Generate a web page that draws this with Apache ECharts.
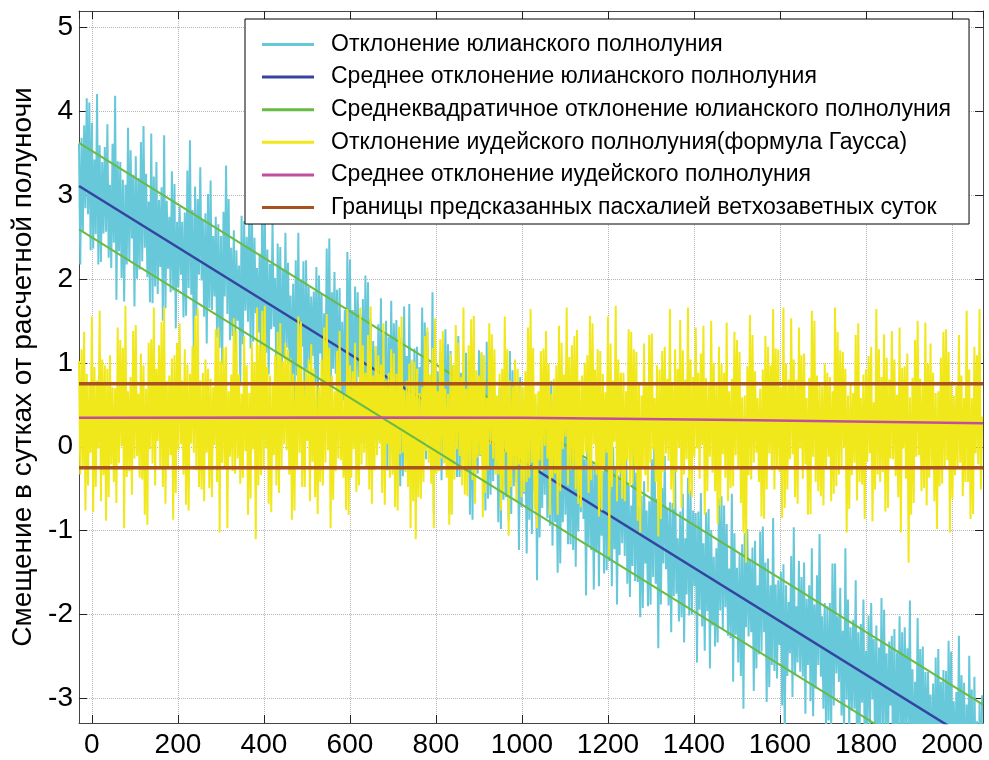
<!DOCTYPE html>
<html>
<head>
<meta charset="utf-8">
<script src="https://cdn.jsdelivr.net/npm/echarts@6/dist/echarts.min.js"></script>
<style>
html, body { margin: 0; padding: 0; background: #fff; }
#chart { width: 989px; height: 760px; }
</style>
</head>
<body>
<div id="chart"></div>
<script>
// годы: от -30 с шагом 3 года
var yearStart = -30;
var yearStep = 3;

// отклонение юлианского полнолуния (сутки), по 60 лет в строке
var julianDev = [
  3.61, 2.17, 3.68, 2.57, 3.83, 2.84, 4.15, 2.77, 4.10, 2.34, 3.86, 2.36, 3.42, 2.53, 4.20, 2.17, 3.59, 2.20, 3.39, 2.54,
  3.57, 2.56, 3.84, 2.25, 3.12, 2.13, 3.61, 2.43, 4.18, 1.75, 3.40, 2.33, 3.39, 2.01, 3.18, 1.73, 3.12, 2.17, 3.80, 2.22,
  3.53, 2.48, 3.24, 1.67, 3.46, 2.00, 3.20, 2.11, 3.63, 2.21, 3.82, 2.37, 3.25, 2.02, 2.92, 1.72, 3.73, 1.71, 3.22, 1.91,
  3.39, 1.82, 2.94, 2.14, 3.09, 1.50, 3.71, 1.65, 2.93, 2.12, 2.74, 1.84, 3.28, 1.86, 3.13, 1.41, 2.68, 1.90, 2.86, 2.05,
  2.68, 1.54, 2.79, 1.56, 3.29, 1.89, 3.65, 1.81, 2.82, 1.04, 3.10, 1.56, 2.95, 2.05, 3.33, 1.98, 2.71, 1.55, 2.78, 1.23,
  3.01, 1.65, 3.17, 1.63, 2.51, 1.79, 2.74, 1.30, 2.65, 1.18, 2.51, 0.98, 2.80, 1.79, 3.35, 1.58, 2.95, 1.27, 2.37, 1.32,
  2.58, 1.13, 2.34, 1.50, 2.16, 0.73, 2.75, 1.22, 2.69, 1.62, 2.50, 1.49, 2.88, 1.17, 2.85, 1.25, 2.49, 1.59, 2.13, 1.36,
  2.30, 0.94, 2.91, 1.13, 2.81, 1.12, 2.35, 0.86, 2.18, 1.40, 2.67, 1.43, 2.01, 0.73, 2.42, 1.11, 2.38, 0.59, 2.12, 1.06,
  2.55, 1.18, 2.19, 1.00, 1.80, 0.73, 1.94, 0.45, 2.22, 0.85, 2.55, 0.68, 1.97, 1.19, 2.21, 0.13, 2.22, 0.91, 1.91, 0.99,
  1.79, 1.08, 1.85, 0.74, 2.14, 0.36, 2.04, 1.11, 1.82, 0.43, 1.59, 0.71, 2.36, 0.74, 2.48, 0.46, 1.84, 0.93, 2.08, 0.87,
  1.87, 0.32, 1.89, 0.26, 1.49, 0.55, 1.63, 0.41, 2.32, 0.67, 2.23, 0.56, 1.63, 0.39, 1.91, 0.70, 1.84, 0.83, 1.58, 0.04,
  1.76, 0.51, 2.04, 0.60, 1.96, 0.41, 1.52, 0.21, 1.26, 0.49, 1.20, -0.04, 1.46, 0.08, 1.77, 0.28, 1.34, 0.60, 1.50, -0.28,
  1.31, 0.19, 1.74, 0.15, 1.47, 0.61, 1.51, 0.33, 1.27, -0.47, 1.30, -0.35, 1.67, 0.31, 1.08, -0.09, 1.70, -0.12, 0.98, 0.12,
  1.17, -0.32, 1.19, -0.23, 0.95, 0.35, 1.66, -0.04, 1.48, -0.15, 1.37, 0.11, 0.81, 0.04, 1.84, -0.79, 1.25, -0.29, 0.90, 0.11,
  1.13, -0.40, 0.81, 0.19, 1.40, -0.19, 1.22, -0.80, 1.14, -0.02, 0.97, 0.09, 0.54, -0.36, 1.32, -0.36, 0.88, -0.16, 0.60, -0.17,
  1.12, -0.28, 0.76, -0.81, 0.86, -0.87, 0.98, -0.37, 0.50, -0.32, 1.15, -0.11, 1.11, -0.21, 0.77, -0.76, 1.25, -0.62, 0.66, -0.57,
  0.76, -0.41, 0.51, -0.26, 0.38, -0.90, 0.70, -0.98, 0.79, -0.63, 0.25, -0.60, 0.22, -0.88, 1.14, -0.80, 0.91, -0.47, 0.74, -0.42,
  0.43, -1.23, 0.83, -0.72, 0.28, -0.56, 0.08, -1.27, 0.67, -0.87, 0.50, -1.04, 0.48, -0.52, 0.25, -1.59, 0.50, -1.08, 0.20, -0.73,
  0.42, -0.57, 0.69, -0.85, 0.03, -0.94, 0.78, -1.18, 0.17, -0.90, -0.10, -1.50, 0.32, -1.39, 0.18, -0.90, 0.47, -0.81, 0.36, -1.16,
  -0.09, -1.16, 0.62, -1.23, 0.36, -1.43, 0.06, -1.01, 0.05, -0.78, 0.38, -0.86, -0.15, -1.77, 0.13, -1.18, 0.09, -1.23, -0.17, -1.70,
  -0.22, -1.26, -0.03, -1.66, 0.00, -1.06, -0.29, -1.51, 0.28, -1.47, 0.32, -1.36, -0.41, -1.66, -0.01, -1.22, -0.24, -1.88, -0.34, -1.29,
  -0.10, -1.15, -0.05, -1.30, 0.27, -1.63, -0.43, -1.79, -0.70, -1.42, 0.19, -1.60, -0.31, -1.61, -0.71, -2.03, -0.58, -1.92, -0.41, -1.39,
  -0.76, -1.90, -0.65, -1.88, -0.15, -1.55, 0.21, -1.63, -0.62, -2.40, -0.34, -1.88, -0.49, -1.39, -0.11, -1.46, -0.73, -1.89, -0.66, -2.21,
  -0.67, -1.78, -0.25, -1.75, -1.09, -2.08, -0.77, -2.03, -0.56, -2.33, -1.09, -1.76, -0.37, -2.01, -0.52, -2.00, -0.76, -1.66, -0.79, -2.57,
  -0.77, -1.94, -0.55, -2.14, -1.15, -2.43, -0.78, -1.96, -0.74, -2.64, -0.99, -2.13, -1.31, -2.38, -1.21, -2.33, -0.62, -1.95, -0.59, -2.17,
  -0.70, -1.91, -0.92, -2.25, -1.45, -2.28, -0.56, -2.80, -1.03, -2.24, -1.44, -2.57, -1.28, -2.73, -1.16, -3.12, -1.03, -2.15, -0.98, -2.26,
  -1.34, -2.21, -1.20, -2.91, -1.12, -2.64, -1.65, -2.47, -1.01, -2.44, -0.95, -2.21, -1.38, -3.04, -1.33, -2.86, -1.65, -2.60, -0.85, -2.67,
  -1.64, -2.76, -1.59, -2.36, -1.49, -3.08, -1.40, -3.46, -1.65, -2.73, -1.85, -2.46, -1.30, -2.98, -0.96, -2.72, -1.90, -2.57, -1.36, -2.68,
  -1.55, -2.74, -1.38, -3.18, -1.81, -2.60, -1.65, -3.03, -1.21, -3.21, -1.88, -2.88, -1.53, -2.60, -1.04, -2.74, -2.02, -3.12, -1.86, -3.40,
  -1.90, -3.26, -1.86, -3.37, -1.39, -3.08, -1.39, -2.70, -2.02, -2.80, -1.68, -3.20, -2.19, -3.47, -1.21, -3.01, -1.82, -3.34, -2.15, -3.14,
  -2.06, -3.12, -1.59, -3.72, -2.21, -3.42, -2.11, -3.05, -1.82, -3.67, -2.43, -3.36, -2.01, -3.35, -1.86, -3.01, -2.29, -3.57, -2.13, -3.91,
  -2.39, -3.34, -1.80, -3.53, -1.94, -3.31, -2.46, -3.67, -2.32, -3.08, -2.25, -3.99, -2.17, -4.07, -2.45, -3.39, -2.02, -3.53, -2.21, -3.65,
  -2.15, -3.41, -2.40, -3.40, -1.83, -3.86, -2.65, -3.89, -2.80, -3.74, -2.04, -3.70, -2.41, -3.40, -2.38, -4.13, -2.68, -3.68, -2.68, -3.49,
  -2.95, -3.96, -2.82, -4.03, -2.51, -4.43, -2.41, -3.75, -2.80, -3.54, -2.66, -4.45, -2.67, -3.99, -2.31, -3.61, -2.44, -3.80, -3.03, -3.99,
  -2.92, -3.96, -2.25, -4.03, -2.72, -3.62, -2.81, -4.30, -3.07, -4.23, -2.49, -3.73, -2.89, -4.48, -2.74, -4.05, -3.27, -4.57, -3.04, -4.21,
  -2.96
];

// отклонение иудейского полнолуния (формула Гаусса), по 60 лет в строке
var jewishDev = [
  1.02, -0.33, 1.16, -0.23, 1.37, -0.76, 0.87, -0.46, 0.74, -0.07, 1.55, -0.78, 0.95, -0.48, 0.79, -0.02, 1.62, -0.65, 1.04, -0.34,
  0.97, -0.88, 0.93, -0.60, 1.09, -0.21, 0.71, -0.42, 0.70, -0.67, 1.42, -0.19, 1.27, 0.01, 1.18, -0.97, 1.68, -0.36, 0.66, -0.29,
  0.83, -0.57, 1.38, -0.14, 1.45, -0.11, 0.63, -0.37, 1.11, -0.39, 0.97, -0.81, 0.69, -0.93, 1.24, -0.03, 1.28, -0.20, 1.66, -0.46,
  0.93, 0.07, 1.21, -0.25, 1.49, -0.48, 1.67, -0.68, 0.78, -0.26, 0.85, -0.10, 1.05, -0.87, 1.09, -0.55, 1.24, -0.04, 1.47, 0.03,
  0.79, -0.33, 1.16, -0.69, 0.98, -0.76, 0.87, 0.04, 1.20, -0.07, 1.55, -0.28, 1.65, -0.48, 0.79, -0.51, 0.88, -0.65, 1.04, -0.07,
  0.93, -0.49, 0.81, -0.60, 0.71, 0.02, 1.40, -0.42, 1.42, -1.02, 1.02, -0.19, 1.18, -0.25, 1.19, -0.97, 0.66, -0.12, 0.86, -0.29,
  1.53, -0.32, 1.38, -0.14, 0.86, -0.44, 0.63, -0.37, 1.32, -0.05, 0.97, -0.81, 0.64, -0.62, 1.24, -0.03, 1.01, -1.10, 1.66, -0.46,
  1.21, -0.34, 1.62, -0.25, 1.68, -0.02, 0.95, -0.68, 0.85, -0.78, 0.74, -0.10, 1.09, -0.46, 1.37, -0.55, 1.47, -0.23, 1.02, 0.03,
  1.24, -0.04, 1.16, -0.33, 1.05, -0.87, 0.87, -0.76, 0.78, -0.26, 1.55, -0.07, 1.49, -0.48, 0.79, -0.48, 0.93, 0.07, 1.04, -0.65,
  1.22, -0.18, 0.93, -0.60, 0.76, -0.80, 0.71, -0.42, 1.04, -0.46, 1.42, -0.19, 1.58, -0.04, 1.18, -0.97, 0.85, -0.63, 0.66, -0.29,
  1.14, -0.14, 1.38, -0.16, 0.63, -0.37, 0.63, -0.75, 1.64, -0.81, 0.97, -0.37, 0.90, -0.03, 1.24, -0.54, 0.77, -0.46, 1.66, -0.21,
  1.21, -0.07, 0.88, -0.25, 1.33, -0.51, 1.67, -0.68, 0.85, -0.28, 1.20, -0.10, 1.09, 0.04, 0.98, -0.55, 1.47, -0.69, 0.79, 0.03,
  0.88, -0.37, 1.16, -0.33, 1.11, -0.72, 0.87, -0.76, 1.43, -0.09, 1.55, -0.07, 0.67, -0.30, 0.79, -0.48, 0.99, -0.97, 1.04, -0.65,
  1.01, -1.10, 0.93, -0.60, 0.64, -0.62, 0.71, -0.42, 1.32, -0.05, 1.42, -0.19, 0.86, -0.44, 1.18, -0.97, 1.53, -0.32, 0.66, -0.29,
  1.28, -0.14, 1.38, -0.20, 0.69, -0.37, 0.63, -0.93, 1.11, -0.81, 0.97, -0.39, 1.45, -0.03, 1.24, -0.11, 0.83, -0.46, 1.66, -0.57,
  0.69, -0.59, 1.21, -0.25, 1.52, -0.40, 1.56, -0.68, 0.91, -0.13, 0.85, -0.10, 1.13, -0.84, 1.09, -0.55, 0.58, -0.28, 1.47, 0.03,
  1.34, -0.14, 1.16, -0.33, 0.61, -0.33, 0.87, -0.76, 0.93, -0.55, 1.55, -0.07, 1.16, -1.06, 0.79, -0.48, 0.72, -0.23, 1.04, -0.65,
  0.93, -0.21, 0.77, -0.60, 0.71, -0.54, 0.90, -0.42, 1.42, -0.37, 1.64, -0.19, 1.18, -0.75, 0.63, -0.97, 0.66, -0.16, 1.14, -0.29,
  1.17, 0.01, 1.38, -0.14, 0.99, -0.81, 0.63, -0.37, 0.81, -0.32, 0.97, -0.81, 1.44, -0.53, 1.24, -0.03, 0.86, 0.12, 1.66, -0.46,
  1.07, -0.28, 1.21, -0.25, 1.32, -0.51, 1.39, -0.68, 0.79, -0.72, 0.85, -0.10, 1.00, -0.07, 1.09, -0.55, 1.56, -0.40, 1.47, 0.03,
  0.92, -0.33, 1.16, -0.83, 1.14, -0.76, 0.87, -0.26, 0.65, -0.07, 1.55, -1.30, 1.23, -0.48, 0.79, 0.06, 1.68, -0.65, 1.04, -0.31,
  0.88, -0.62, 0.88, -0.65, 0.66, -0.16, 1.40, -0.47, 1.37, -0.44, 1.16, -0.24, 1.13, -0.88, 0.74, -1.02, 0.61, -0.25, 1.23, -0.34,
  0.76, -0.54, 1.33, -0.19, 1.35, -0.03, 0.58, -0.42, 0.97, -1.07, 0.92, -0.86, 1.14, -0.30, 1.19, -0.08, 0.81, -0.17, 1.64, -0.51,
  0.74, -0.74, 1.16, -0.30, 0.93, -0.01, 1.51, -0.73, 1.15, -0.33, 0.80, -0.15, 1.66, -0.56, 1.04, -0.60, 0.83, -0.12, 1.42, -0.02,
  0.88, -0.38, 1.11, 0.02, 1.44, -0.81, 0.82, -0.53, 0.73, -0.12, 1.50, -0.31, 1.00, -0.53, 0.74, -0.92, 1.19, -0.70, 0.99, -0.09,
  0.88, -0.37, 1.48, -0.65, 0.66, -0.49, 0.81, -0.47, 1.37, -0.10, 1.27, -0.24, 1.13, -0.67, 0.59, -1.02, 0.61, -1.38, 0.96, -0.34,
  1.57, -0.39, 1.33, -0.19, 0.90, -0.07, 0.58, -0.42, 0.69, -0.83, 0.92, -0.86, 1.32, -0.51, 1.19, -0.08, 0.97, -0.28, 1.64, -0.51,
  1.17, -0.23, 1.16, -0.30, 0.71, -0.85, 1.66, -0.73, 0.99, -0.51, 0.80, -0.15, 1.53, -0.09, 1.04, -0.60, 0.80, -0.68, 1.42, -0.02,
  1.09, -0.38, 1.11, -0.21, 0.58, -0.81, 0.82, -0.80, 1.62, -0.12, 1.50, -0.42, 0.85, -0.53, 0.74, -0.59, 0.72, -0.70, 0.99, -0.26,
  0.88, -0.12, 0.83, -0.65, 0.66, -0.56, 1.66, -0.47, 1.37, -0.33, 1.15, -0.24, 1.13, -0.01, 0.93, -1.02, 0.61, -0.74, 0.74, -0.34,
  0.64, -0.19, 1.33, -0.64, 1.47, -0.42, 0.58, -0.45, 0.86, -0.86, 0.92, -0.18, 1.08, -0.08, 1.19, -0.89, 0.53, -0.51, 1.64, -0.33,
  1.16, -0.42, 0.83, -0.30, 1.34, -0.77, 1.06, -0.73, 0.80, -0.14, 1.38, -0.15, 1.04, -0.35, 0.62, -0.60, 1.42, -1.02, 0.94, -0.02,
  0.96, -0.38, 1.11, -1.38, 0.59, -0.81, 0.82, -0.67, 1.27, -0.12, 1.50, -0.10, 0.81, -0.53, 0.74, -0.49, 1.48, -0.70, 0.99, -0.37,
  1.23, -0.25, 0.88, -0.65, 0.64, -0.98, 0.66, -0.47, 1.06, -0.44, 1.37, -0.24, 1.40, -0.16, 1.13, -1.02, 0.78, -0.62, 0.61, -0.34,
  0.72, -0.26, 1.33, -0.19, 0.85, -0.59, 0.58, -0.42, 1.62, -0.42, 0.92, -0.86, 0.58, -0.80, 1.19, -0.08, 1.09, -0.21, 1.64, -0.51,
  0.36
];

// средние и границы: [год, сутки]
var julianMean = [[-30, 3.105], [2072, -3.58]];
var julianRmsUpper = [[-30, 3.62], [2072, -3.07]];
var julianRmsLower = [[-30, 2.59], [2072, -4.10]];
var jewishMean = [[-30, 0.345], [600, 0.35], [1000, 0.345], [1500, 0.32], [2072, 0.28]];
var boundUpper = [[-30, 0.75], [2072, 0.75]];
var boundLower = [[-30, -0.25], [2072, -0.25]];

var names = [
  'Отклонение юлианского полнолуния',
  'Среднее отклонение юлианского полнолуния',
  'Среднеквадратичное отклонение юлианского полнолуния',
  'Отклонение иудейского полнолуния(формула Гаусса)',
  'Среднее отклонение иудейского полнолуния',
  'Границы предсказанных пасхалией ветхозаветных суток'
];

function toPairs(vals) {
  return vals.map(function (v, i) {
    return [yearStart + i * yearStep, v];
  });
}

var font = 'Liberation Sans';

function lineSeries(name, data, color, width) {
  return {
    name: name,
    type: 'line',
    data: data,
    showSymbol: false,
    symbol: 'none',
    lineStyle: { color: color, width: width },
    itemStyle: { color: color },
    emphasis: { disabled: true }
  };
}

function plainNumber(v) {
  return String(v);
}

var xBase = { type: 'value', min: -30, max: 2072, splitNumber: 10 };
var yBase = { type: 'value', min: -3.29, max: 5.19, splitNumber: 8 };

var myChart = echarts.init(document.getElementById('chart'));

var option = {
  animation: false,
  grid: { left: 79, right: 6, top: 11, bottom: 37 },
  legend: {
    data: names,
    orient: 'vertical',
    left: 245,
    top: 19,
    backgroundColor: '#fff',
    borderColor: '#000',
    borderWidth: 1,
    padding: [14, 18, 5, 17],
    icon: 'rect',
    itemWidth: 52,
    itemHeight: 3,
    itemGap: 9.6,
    selectedMode: false,
    textStyle: { fontFamily: font, fontSize: 23, color: '#000', padding: [0, 0, 0, 12] }
  },
  xAxis: [
    Object.assign({}, xBase, {
      position: 'bottom',
      axisLine: { onZero: false, lineStyle: { color: '#444' } },
      axisTick: { inside: true, length: 8, lineStyle: { color: '#222' } },
      axisLabel: { fontFamily: font, fontSize: 28, color: '#000', margin: 8, showMinLabel: false, showMaxLabel: false, formatter: plainNumber },
      splitLine: { show: true, lineStyle: { type: 'dotted', color: '#b5b5b5' } }
    }),
    Object.assign({}, xBase, {
      position: 'top',
      axisLine: { onZero: false, lineStyle: { color: '#444' } },
      axisTick: { inside: true, length: 8, lineStyle: { color: '#222' } },
      axisLabel: { show: false },
      splitLine: { show: false }
    })
  ],
  yAxis: [
    Object.assign({}, yBase, {
      position: 'left',
      name: 'Смещение в сутках от расчетной полуночи',
      nameLocation: 'middle',
      nameGap: 42,
      nameTextStyle: { fontFamily: font, fontSize: 28, color: '#000' },
      axisLine: { show: true, onZero: false, lineStyle: { color: '#444' } },
      axisTick: { show: true, inside: true, length: 8, lineStyle: { color: '#222' } },
      axisLabel: { fontFamily: font, fontSize: 28, color: '#000', margin: 6, showMinLabel: false, showMaxLabel: false, formatter: plainNumber },
      splitLine: { show: true, lineStyle: { type: 'dotted', color: '#b5b5b5' } }
    }),
    Object.assign({}, yBase, {
      position: 'right',
      axisLine: { show: true, onZero: false, lineStyle: { color: '#444' } },
      axisTick: { show: true, inside: true, length: 8, lineStyle: { color: '#222' } },
      axisLabel: { show: false },
      splitLine: { show: false }
    })
  ],
  series: [
    lineSeries(names[0], toPairs(julianDev), '#66c8d9', 2),
    lineSeries(names[1], julianMean, '#3444a0', 2.5),
    lineSeries(names[2], julianRmsUpper, '#68bb45', 2),
    lineSeries(names[3], toPairs(jewishDev), '#f0e81a', 2),
    lineSeries(names[2], julianRmsLower, '#68bb45', 2),
    lineSeries(names[4], jewishMean, '#c0509e', 2.5),
    lineSeries(names[5], boundUpper, '#a8521f', 3.5),
    lineSeries(names[5], boundLower, '#a8521f', 3.5)
  ]
};

myChart.setOption(option);
</script>
</body>
</html>
